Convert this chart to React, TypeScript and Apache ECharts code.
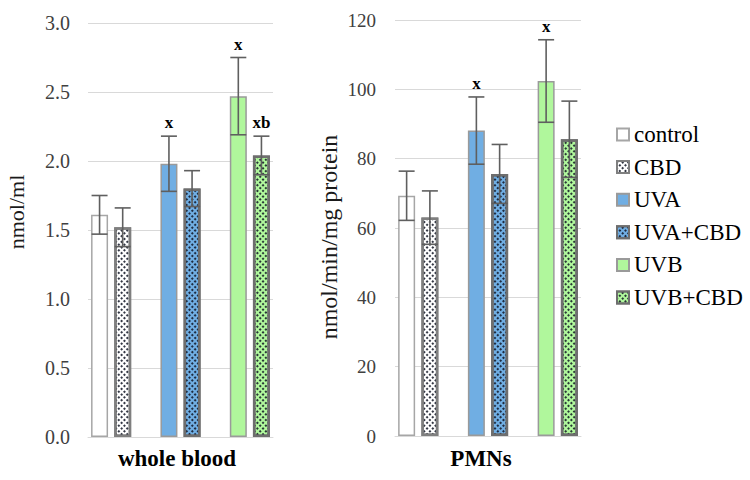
import React, { useEffect, useRef } from "react";
import * as echarts from "echarts";

const groups = ["control", "CBD", "UVA", "UVA+CBD", "UVB", "UVB+CBD"];
const bloodMean = [1.61, 1.52, 1.98, 1.8, 2.47, 2.04];
const bloodErr = [0.14, 0.14, 0.2, 0.13, 0.28, 0.14];
const bloodSig = ["", "", "x", "", "x", "xb"];
const pmnMean = [69.3, 63.0, 88.1, 75.6, 102.4, 85.6];
const pmnErr = [7.1, 7.7, 9.7, 8.5, 11.9, 11.0];
const pmnSig = ["", "", "x", "", "x", ""];
const bloodTicks = { min: 0, max: 3, interval: 0.5 };
const pmnTicks = { min: 0, max: 120, interval: 20 };

// slot positions on an 8-slot category axis (gaps between pairs)
const slotOf = [0, 1, 3, 4, 6, 7];
const slots = ["s0", "s1", "s2", "s3", "s4", "s5", "s6", "s7"];

const FONT = "Liberation Serif, serif";

const dots = {
  symbol: "rect",
  symbolSize: 1,
  color: "rgba(15,20,35,0.85)",
  dashArrayX: [1.3, 1.55],
  dashArrayY: [1.3, 1.55],
  rotation: Math.PI / 4,
};

const styles: any[] = [
  { color: "#ffffff", borderColor: "#a6a6a6", borderWidth: 1.5 },
  { color: "#ffffff", borderColor: "#7f7f7f", borderWidth: 2.5, decal: dots },
  { color: "#70aee3", borderColor: "#9a9a9a", borderWidth: 1.5 },
  { color: "#70aee3", borderColor: "#6e6e6e", borderWidth: 2.5, decal: dots },
  { color: "#b0f79c", borderColor: "#9a9a9a", borderWidth: 1.5 },
  { color: "#b0f79c", borderColor: "#6e6e6e", borderWidth: 2.5, decal: dots },
];

function barSeries(gridIdx: number, means: number[]) {
  return groups.map((g, i) => {
    const data: any[] = slots.map(() => "-");
    data[slotOf[i]] = means[i];
    return {
      type: "bar",
      name: g,
      xAxisIndex: gridIdx,
      yAxisIndex: gridIdx,
      data,
      barWidth: 17,
      barGap: "-100%",
      itemStyle: styles[i],
      z: 2,
    };
  });
}

function errSeries(gridIdx: number, means: number[], errs: number[], sig: string[]) {
  return {
    type: "custom",
    xAxisIndex: gridIdx,
    yAxisIndex: gridIdx,
    z: 5,
    clip: false,
    silent: true,
    data: means.map((m, i) => [slotOf[i], m, errs[i]]),
    renderItem: (params: any, api: any) => {
      const x = api.value(0);
      const m = api.value(1);
      const e = api.value(2);
      const top = api.coord([x, m + e]);
      const bot = api.coord([x, m - e]);
      const half = 8;
      const ls = { stroke: "#5f5f5f", lineWidth: 1.6 };
      const children: any[] = [
        { type: "line", shape: { x1: top[0], y1: top[1], x2: bot[0], y2: bot[1] }, style: ls },
        { type: "line", shape: { x1: top[0] - half, y1: top[1], x2: top[0] + half, y2: top[1] }, style: ls },
        { type: "line", shape: { x1: bot[0] - half, y1: bot[1], x2: bot[0] + half, y2: bot[1] }, style: ls },
      ];
      const s = sig[params.dataIndex];
      if (s) {
        children.push({
          type: "text",
          x: top[0],
          y: top[1] - 5,
          style: {
            text: s,
            font: `bold 17px ${FONT}`,
            fill: "#000",
            textAlign: "center",
            textVerticalAlign: "bottom",
          },
        });
      }
      return { type: "group", children };
    },
  };
}

export default function App() {
  const ref = useRef<HTMLDivElement>(null);
  useEffect(() => {
    if (!ref.current) return;
    const chart = echarts.init(ref.current, undefined, { renderer: "svg" });
    const gridLine = { show: true, lineStyle: { color: "#d9d9d9", width: 1 } };
    const xAxisBase = {
      type: "category",
      data: slots,
      axisLabel: { show: false },
      axisTick: { show: false },
      axisLine: { show: true, lineStyle: { color: "#d9d9d9", width: 1 } },
    };
    const yAxisBase = {
      type: "value",
      axisLine: { show: false },
      axisTick: { show: false },
      splitLine: gridLine,
    };
    chart.setOption({
      animation: false,
      backgroundColor: "#ffffff",
      textStyle: { fontFamily: FONT },
      grid: [
        { left: 88, right: 477, top: 23, bottom: 43 },
        { left: 395, right: 169, top: 20, bottom: 44 },
      ],
      xAxis: [
        { ...xAxisBase, gridIndex: 0 },
        { ...xAxisBase, gridIndex: 1 },
      ],
      yAxis: [
        {
          ...yAxisBase,
          gridIndex: 0,
          ...bloodTicks,
          axisLabel: {
            margin: 18,
            fontSize: 20,
            fontFamily: FONT,
            color: "#404040",
            formatter: (v: number) => v.toFixed(1),
          },
        },
        {
          ...yAxisBase,
          gridIndex: 1,
          ...pmnTicks,
          axisLabel: { margin: 19, fontSize: 19, fontFamily: FONT, color: "#404040" },
        },
      ],
      legend: {
        orient: "vertical",
        left: 611,
        top: 118,
        itemWidth: 12,
        itemHeight: 12,
        itemGap: 9.6,
        icon: "rect",
        data: groups,
        textStyle: { fontSize: 23, lineHeight: 23, fontFamily: FONT, color: "#000" },
      },
      graphic: [
        {
          type: "text",
          x: 16,
          y: 212,
          rotation: Math.PI / 2,
          style: {
            text: "nmol/ml",
            font: `22px ${FONT}`,
            fill: "#1a1a1a",
            textAlign: "center",
            textVerticalAlign: "middle",
          },
        },
        {
          type: "text",
          x: 329,
          y: 237,
          rotation: Math.PI / 2,
          style: {
            text: "nmol/min/mg protein",
            font: `24px ${FONT}`,
            fill: "#1a1a1a",
            textAlign: "center",
            textVerticalAlign: "middle",
          },
        },
        {
          type: "text",
          x: 177,
          y: 458,
          style: {
            text: "whole blood",
            font: `bold 23px ${FONT}`,
            fill: "#000",
            textAlign: "center",
            textVerticalAlign: "middle",
          },
        },
        {
          type: "text",
          x: 481,
          y: 458,
          style: {
            text: "PMNs",
            font: `bold 23px ${FONT}`,
            fill: "#000",
            textAlign: "center",
            textVerticalAlign: "middle",
          },
        },
      ],
      series: [
        ...barSeries(0, bloodMean),
        ...barSeries(1, pmnMean),
        errSeries(0, bloodMean, bloodErr, bloodSig),
        errSeries(1, pmnMean, pmnErr, pmnSig),
      ],
    });
    return () => chart.dispose();
  }, []);
  return (
    <>
      <style>{`.chart-root svg text { font-family: "Liberation Serif", serif !important; }`}</style>
      <div
        ref={ref}
        className="chart-root"
        style={{ position: "fixed", left: 0, top: 0, width: 750, height: 480 }}
      />
    </>
  );
}
